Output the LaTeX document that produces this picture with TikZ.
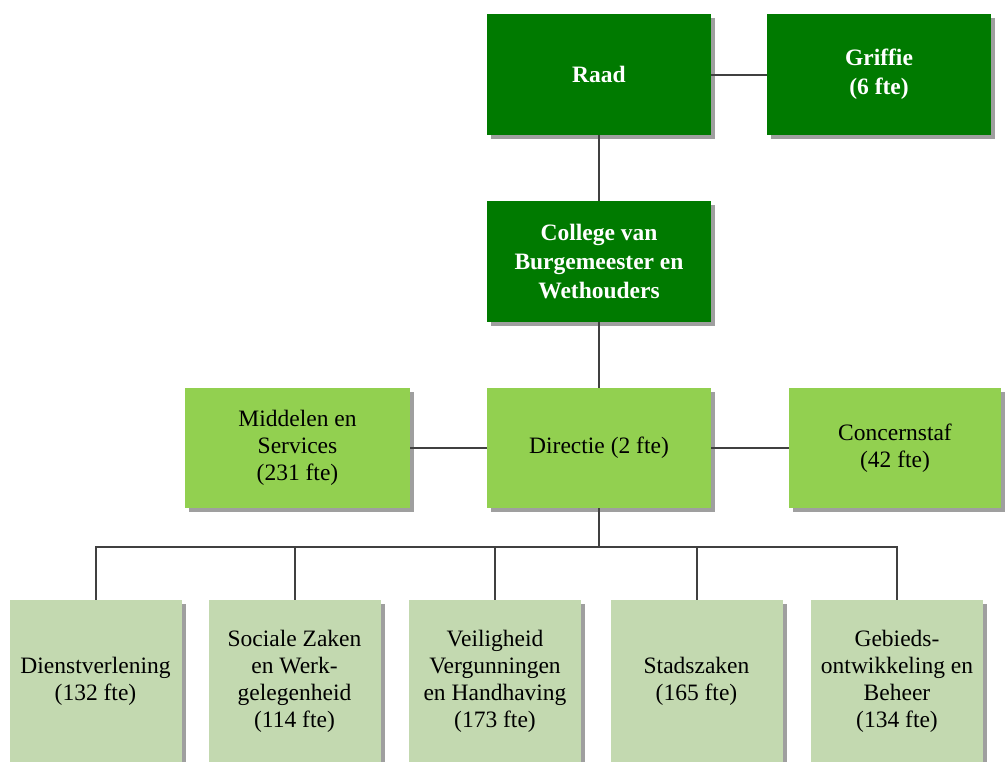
\documentclass[tikz,border=0pt]{standalone}
\usepackage{fontspec}
\setmainfont{Liberation Serif}
\usetikzlibrary{shadows}
\definecolor{dkgreen}{RGB}{0,122,0}
\definecolor{mdgreen}{RGB}{146,208,80}
\definecolor{ltgreen}{RGB}{195,217,176}
\definecolor{linegray}{RGB}{64,64,64}
\tikzset{
  box/.style={rectangle, inner sep=0pt, align=center,
    drop shadow={shadow xshift=4pt, shadow yshift=-4pt, fill=gray!75, opacity=1}},
  topbox/.style={box, fill=dkgreen, text=white, minimum width=224pt, minimum height=121pt,
    font=\fontsize{23.5}{29}\selectfont\bfseries},
  midbox/.style={box, fill=mdgreen, text=black, minimum height=120pt,
    font=\fontsize{23.5}{27}\selectfont},
  lowbox/.style={box, fill=ltgreen, text=black, minimum width=172pt, minimum height=162pt,
    font=\fontsize{23.5}{27}\selectfont},
  conn/.style={draw=linegray, line width=2pt}
}
\begin{document}
\begin{tikzpicture}[x=1pt,y=-1pt]
\useasboundingbox (0,0) rectangle (1006,761);
\node[topbox] (raad) at (599,74.5) {Raad};
\node[topbox] (griffie) at (879,74.5) {Griffie\\(6 fte)};
\node[topbox] (college) at (599,261.5) {College van\\Burgemeester en\\Wethouders};
\node[midbox, minimum width=225pt] (middelen) at (297.5,448) {Middelen en\\Services\\(231 fte)};
\node[midbox, minimum width=224pt] (directie) at (599,448) {Directie (2 fte)};
\node[midbox, minimum width=212pt] (concern) at (895,448) {Concernstaf\\(42 fte)};
\node[lowbox] (b1) at (95.5,681) {Dienstverlening\\(132 fte)};
\node[lowbox] (b2) at (294.5,681) {Sociale Zaken\\en Werk-\\gelegenheid\\(114 fte)};
\node[lowbox] (b3) at (495,681) {Veiligheid\\Vergunningen\\en Handhaving\\(173 fte)};
\node[lowbox] (b4) at (696.5,681) {Stadszaken\\(165 fte)};
\node[lowbox] (b5) at (897,681) {Gebieds-\\ontwikkeling en\\Beheer\\(134 fte)};
\coordinate (bus) at (599,547);
\draw[conn] (raad.east) -- (griffie.west);
\draw[conn] (raad.south) -- (college.north);
\draw[conn] (college.south) -- (directie.north);
\draw[conn] (middelen.east) -- (directie.west);
\draw[conn] (directie.east) -- (concern.west);
\draw[conn] (directie.south) -- (bus);
\foreach \b in {b1,b2,b3,b4,b5}{
  \draw[conn] (bus) -| (\b.north);
}
\end{tikzpicture}
\end{document}
